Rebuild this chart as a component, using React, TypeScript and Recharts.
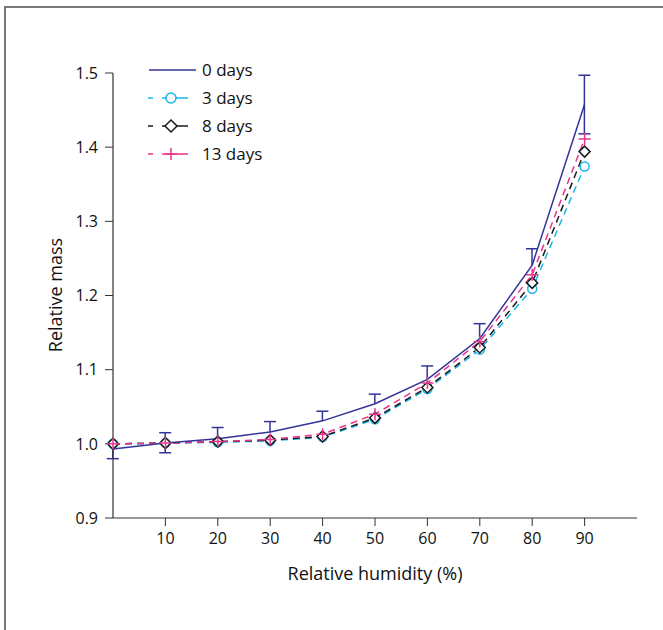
import React from 'react';
import { ComposedChart, Line, Bar, XAxis, YAxis, Legend } from 'recharts';

const humidity = [0, 10, 20, 30, 40, 50, 60, 70, 80, 90];
const mass0 = [0.993, 1.001, 1.007, 1.016, 1.031, 1.054, 1.087, 1.142, 1.241, 1.458];
const err0Low = [0.013, 0.013, 0, 0, 0, 0, 0, 0, 0, 0.04];
const err0High = [0, 0.014, 0.015, 0.014, 0.013, 0.013, 0.018, 0.02, 0.022, 0.039];
const mass3 = [1.0, 1.001, 1.002, 1.004, 1.009, 1.033, 1.074, 1.127, 1.209, 1.374];
const mass8 = [1.0, 1.001, 1.003, 1.005, 1.01, 1.035, 1.076, 1.13, 1.217, 1.394];
const mass13 = [1.0, 1.001, 1.003, 1.006, 1.013, 1.04, 1.082, 1.138, 1.228, 1.411];
const xTicks = [10, 20, 30, 40, 50, 60, 70, 80, 90];
const yTicks = [0.9, 1.0, 1.1, 1.2, 1.3, 1.4, 1.5];
const seriesNames = ['0 days', '3 days', '8 days', '13 days'];

const data = humidity.map((h, i) => ({
  h,
  m0: mass0[i],
  lo: err0Low[i],
  hi: err0High[i],
  m3: mass3[i],
  m8: mass8[i],
  m13: mass13[i],
}));

const C0 = '#33339a';
const C3 = '#1ab4ea';
const C8 = '#1a1a1a';
const C13 = '#e8348c';
const FONT = '"Open Sans", sans-serif';
const AX = '#333';

const CircleDot = (p: any) => {
  if (p.cx == null || p.cy == null) return null;
  return <circle key={p.key} cx={p.cx} cy={p.cy} r={4.5} stroke={C3} strokeWidth={1.5} fill="#fff" />;
};
const DiamondDot = (p: any) => {
  if (p.cx == null || p.cy == null) return null;
  const s = 5.5;
  return (
    <path
      key={p.key}
      d={`M${p.cx},${p.cy - s}L${p.cx + s},${p.cy}L${p.cx},${p.cy + s}L${p.cx - s},${p.cy}Z`}
      stroke={C8}
      strokeWidth={1.5}
      fill="#fff"
    />
  );
};
const PlusDot = (p: any) => {
  if (p.cx == null || p.cy == null) return null;
  const s = 6;
  return (
    <path
      key={p.key}
      d={`M${p.cx - s},${p.cy}L${p.cx + s},${p.cy}M${p.cx},${p.cy - s}L${p.cx},${p.cy + s}`}
      stroke={C13}
      strokeWidth={1.5}
      fill="none"
    />
  );
};

const ErrShape = (p: any) => {
  const { x, y, width, height, payload } = p;
  if (x == null || y == null) return null;
  const cx = x + width / 2;
  const top = Math.min(y, y + height);
  const bot = Math.max(y, y + height);
  const hw = 6;
  return (
    <g>
      <line x1={cx} x2={cx} y1={top} y2={bot} stroke={C0} strokeWidth={1.5} />
      {payload.hi > 0 && <line x1={cx - hw} x2={cx + hw} y1={top} y2={top} stroke={C0} strokeWidth={1.5} />}
      {payload.lo > 0 && <line x1={cx - hw} x2={cx + hw} y1={bot} y2={bot} stroke={C0} strokeWidth={1.5} />}
    </g>
  );
};

const LegendContent = () => {
  const rows = [
    { name: seriesNames[0], color: C0, kind: 'solid' },
    { name: seriesNames[1], color: C3, kind: 'circle' },
    { name: seriesNames[2], color: C8, kind: 'diamond' },
    { name: seriesNames[3], color: C13, kind: 'plus' },
  ];
  return (
    <svg width={140} height={112} style={{ overflow: 'visible' }}>
      {rows.map((r, i) => {
        const y = 12 + i * 28;
        let sym: any = null;
        if (r.kind === 'solid') {
          sym = <line x1={2} x2={49} y1={y} y2={y} stroke={r.color} strokeWidth={1.5} />;
        } else {
          const cx = 24;
          let mk: any;
          if (r.kind === 'circle') mk = <circle cx={cx} cy={y} r={5} stroke={r.color} strokeWidth={1.5} fill="#fff" />;
          else if (r.kind === 'diamond')
            mk = <path d={`M${cx},${y - 6}L${cx + 6},${y}L${cx},${y + 6}L${cx - 6},${y}Z`} stroke={r.color} strokeWidth={1.5} fill="#fff" />;
          else mk = <path d={`M${cx - 6},${y}L${cx + 6},${y}M${cx},${y - 6}L${cx},${y + 6}`} stroke={r.color} strokeWidth={1.5} />;
          sym = (
            <g>
              <line x1={1} x2={6} y1={y} y2={y} stroke={r.color} strokeWidth={1.5} />
              <line x1={15} x2={34} y1={y} y2={y} stroke={r.color} strokeWidth={1.5} />
              <line x1={34} x2={41} y1={y} y2={y} stroke={r.color} strokeWidth={1.5} />
              {mk}
            </g>
          );
        }
        return (
          <g key={r.name}>
            {sym}
            <text x={55} y={y + 6} fontSize={17} fontFamily={FONT} fill="#111">
              {r.name}
            </text>
          </g>
        );
      })}
    </svg>
  );
};

export default function App() {
  return (
    <div style={{ position: 'absolute', left: 0, top: 0, width: 663, height: 630, background: '#fff' }}>
      <div
        style={{
          position: 'absolute',
          left: 4,
          top: 6,
          width: 700,
          height: 700,
          borderTop: '2px solid #777',
          borderLeft: '2px solid #777',
          boxSizing: 'border-box',
        }}
      />
      <div style={{ position: 'absolute', left: 0, top: 0 }}>
        <ComposedChart width={663} height={630} data={data} margin={{ top: 73, right: 26, bottom: 32, left: 0 }}>
          <XAxis
            dataKey="h"
            type="number"
            domain={[0, 100]}
            ticks={xTicks}
            tickSize={8}
            tickMargin={7}
            height={80}
            stroke={AX}
            tick={{ fill: '#111', fontSize: 16, fontFamily: FONT }}
            tickLine={{ stroke: AX }}
            axisLine={{ stroke: AX, strokeWidth: 1.2 }}
            label={{ value: 'Relative humidity (%)', position: 'insideBottom', offset: 18, fill: '#111', fontSize: 18, fontFamily: FONT }}
          />
          <YAxis
            type="number"
            domain={[0.9, 1.5]}
            ticks={yTicks}
            width={113}
            tickSize={8}
            tickMargin={7}
            stroke={AX}
            tickFormatter={(v: number) => v.toFixed(1)}
            tick={{ fill: '#111', fontSize: 16, fontFamily: FONT }}
            tickLine={{ stroke: AX }}
            axisLine={{ stroke: AX, strokeWidth: 1.2 }}
            label={{
              content: () => (
                <text x={62} y={295} transform="rotate(-90 62 295)" textAnchor="middle" fontSize={18} fontFamily={FONT} fill="#111">
                  Relative mass
                </text>
              ),
            }}
          />
          <Legend
            layout="horizontal"
            verticalAlign="middle"
            align="center"
            content={<LegendContent />}
            wrapperStyle={{ position: 'absolute', left: 147, top: 58, width: 140, height: 112 }}
          />
          <Line dataKey="m3" stroke={C3} strokeWidth={1.5} strokeDasharray="7 5" dot={<CircleDot />} isAnimationActive={false} />
          <Line dataKey="m8" stroke={C8} strokeWidth={1.5} strokeDasharray="7 5" dot={<DiamondDot />} isAnimationActive={false} />
          <Line dataKey="m13" stroke={C13} strokeWidth={1.5} strokeDasharray="7 5" dot={<PlusDot />} isAnimationActive={false} />
          <Line dataKey="m0" stroke={C0} strokeWidth={1.5} dot={false} isAnimationActive={false} />
          <Bar
            dataKey={(d: any) => [d.m0 - d.lo, d.m0 + d.hi]}
            barSize={12}
            shape={<ErrShape />}
            isAnimationActive={false}
          />
        </ComposedChart>
      </div>
    </div>
  );
}
